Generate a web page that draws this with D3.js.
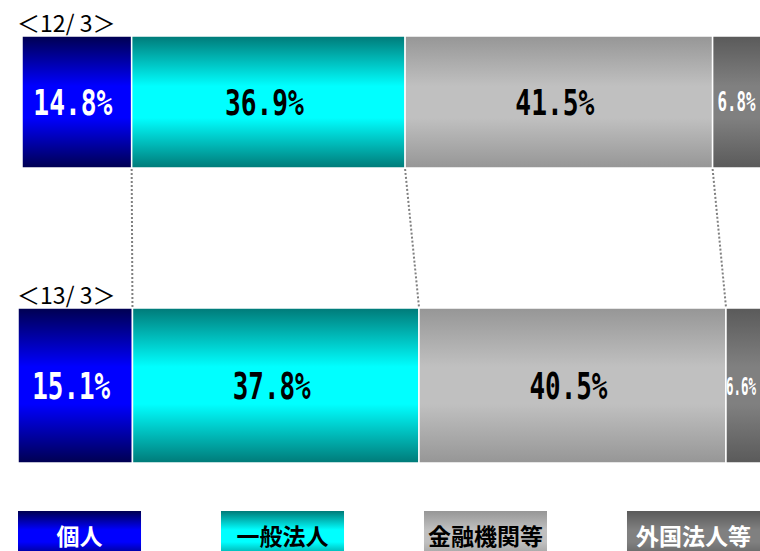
<!DOCTYPE html>
<html lang="ja">
<head>
<meta charset="utf-8">
<title>株主構成</title>
<style>
  html, body { margin: 0; padding: 0; background: #fff; }
  svg { display: block; }
</style>
</head>
<body>
<svg id="chart" width="760" height="551"></svg>
<script src="https://cdn.jsdelivr.net/npm/d3@7"></script>
<script>
// data
const periods = ["＜12/ 3＞", "＜13/ 3＞"];
const categories = ["個人", "一般法人", "金融機関等", "外国法人等"];
const share2012 = [14.8, 36.9, 41.5, 6.8];
const share2013 = [15.1, 37.8, 40.5, 6.6];
const shares = [share2012, share2013];

// looks
const edgeColors = ["#000050", "#007a78", "#969696", "#5a5a5a"];
const midColors  = ["#0000ff", "#00ffff", "#c0c0c0", "#808080"];
const textColors = ["#fff", "#000", "#000", "#fff"];

const W = 760, H = 551;
const barLayout = [
  { x0: 22, x1: 763, y: 36,  h: 132, fs: 35, width: 79, smallFs: 26, smallW: 38, titleY: 32 },
  { x0: 18, x1: 776, y: 308, h: 155, fs: 37, width: 78, smallFs: 25, smallW: 30, titleY: 304 }
];

const svg = d3.select("#chart");
const defs = svg.append("defs");

categories.forEach((c, i) => {
  const g = defs.append("linearGradient")
      .attr("id", "grad" + i)
      .attr("x1", 0).attr("y1", 0).attr("x2", 0).attr("y2", 1);
  g.append("stop").attr("offset", "0%").attr("stop-color", edgeColors[i]);
  g.append("stop").attr("offset", "38%").attr("stop-color", midColors[i]);
  g.append("stop").attr("offset", "62%").attr("stop-color", midColors[i]);
  g.append("stop").attr("offset", "100%").attr("stop-color", edgeColors[i]);
});

const fmt = v => d3.format(".1f")(v) + "%";

// one x scale per bar, cumulative starts
const xs = barLayout.map(l => d3.scaleLinear().domain([0, 100]).range([l.x0, l.x1]));
const stacks = shares.map(s => {
  let acc = 0;
  return s.map((v, i) => { const d = { i, v, start: acc, end: acc + v }; acc += v; return d; });
});

// dotted connectors between boundaries
const connectors = d3.range(3).map(k => ({
  a: stacks[0][k].end, b: stacks[1][k].end
}));
svg.append("g")
  .selectAll("line")
  .data(connectors)
  .join("line")
    .attr("x1", d => xs[0](d.a))
    .attr("y1", barLayout[0].y + barLayout[0].h + 1)
    .attr("x2", d => xs[1](d.b))
    .attr("y2", barLayout[1].y - 1)
    .attr("stroke", "#808080")
    .attr("stroke-width", 2)
    .attr("stroke-dasharray", "2,2");

stacks.forEach((stack, b) => {
  const l = barLayout[b];
  const x = xs[b];
  const g = svg.append("g");

  g.append("text")
      .attr("x", 17)
      .attr("y", l.titleY)
      .attr("font-family", "'Noto Sans CJK JP', sans-serif")
      .attr("font-size", 23)
      .attr("fill", "#000")
      .text(periods[b]);

  g.selectAll("rect")
    .data(stack)
    .join("rect")
      .attr("x", d => x(d.start))
      .attr("y", l.y)
      .attr("width", d => x(d.end) - x(d.start))
      .attr("height", l.h)
      .attr("fill", d => `url(#grad${d.i})`)
      .attr("stroke", "#fff")
      .attr("stroke-width", 1.5);

  g.selectAll("text.val")
    .data(stack)
    .join("text")
      .attr("class", "val")
      .attr("font-family", "'DejaVu Sans Mono', monospace")
      .attr("font-weight", "bold")
      .attr("fill", d => textColors[d.i])
      .attr("lengthAdjust", "spacingAndGlyphs")
      .each(function(d) {
        const t = d3.select(this);
        const small = d.v < 10;
        const fs = small ? l.smallFs : l.fs;
        const w = small ? l.smallW : l.width;
        t.attr("font-size", fs)
         .attr("y", l.y + l.h / 2 + fs * 0.73 / 2)
         .attr("textLength", w)
         .text(fmt(d.v));
        if (small) {
          t.attr("x", Math.min(x(d.start) + 5, W - w - 4)).attr("text-anchor", "start");
        } else {
          t.attr("x", (x(d.start) + x(d.end)) / 2 - 4).attr("text-anchor", "middle");
        }
      });
});

// legend
const lx = d3.scaleBand().domain(categories).range([18, 750]).paddingInner(0.394);
const legend = svg.append("g")
  .selectAll("g")
  .data(categories)
  .join("g")
    .attr("transform", d => `translate(${lx(d)},511)`);

const boxW = (d, i) => i === 3 ? W - lx(d) : lx.bandwidth();

legend.append("rect")
    .attr("width", boxW)
    .attr("height", 50)
    .attr("fill", (d, i) => `url(#grad${i})`);

legend.append("text")
    .attr("x", (d, i) => boxW(d, i) / 2)
    .attr("y", 24)
    .attr("text-anchor", "middle")
    .attr("dominant-baseline", "central")
    .attr("font-family", "'Noto Sans CJK JP', sans-serif")
    .attr("font-weight", "bold")
    .attr("font-size", 23)
    .attr("fill", (d, i) => textColors[i])
    .text(d => d);
</script>
</body>
</html>
